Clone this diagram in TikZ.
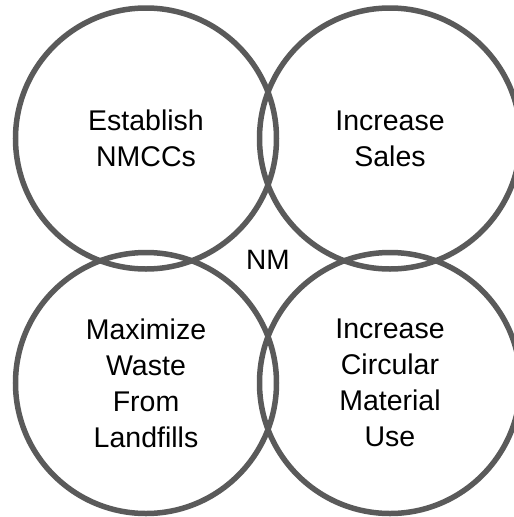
\documentclass[tikz,border=0pt]{standalone}
\usepackage{fontspec}
\setmainfont{Liberation Sans}
\definecolor{ringgray}{HTML}{5A5A5A}
\begin{document}
\begin{tikzpicture}[x=1pt,y=-1pt,
  ring/.style={circle, draw=ringgray, line width=5.5pt, minimum size=261pt,
    inner sep=0pt, align=center, text=black,
    font=\fontsize{28.5}{36}\selectfont},
  hub/.style={inner sep=0pt, text=black, font=\fontsize{28}{36}\selectfont}]
  \useasboundingbox (0,0) rectangle (514,517);
  \clip (0,0) rectangle (514,517);
  \fill[white] (0,0) rectangle (514,517);
  \node[ring] (tl) at (146,138.5) {Establish\\NMCCs};
  \node[ring] (tr) at (390,138.5) {Increase\\Sales};
  \node[ring] (bl) at (146,383) {Maximize\\Waste\\From\\Landfills};
  \node[ring] (br) at (390,383) {Increase\\Circular\\Material\\Use};
  \node[hub] (nm) at (268,260) {NM};
\end{tikzpicture}
\end{document}
